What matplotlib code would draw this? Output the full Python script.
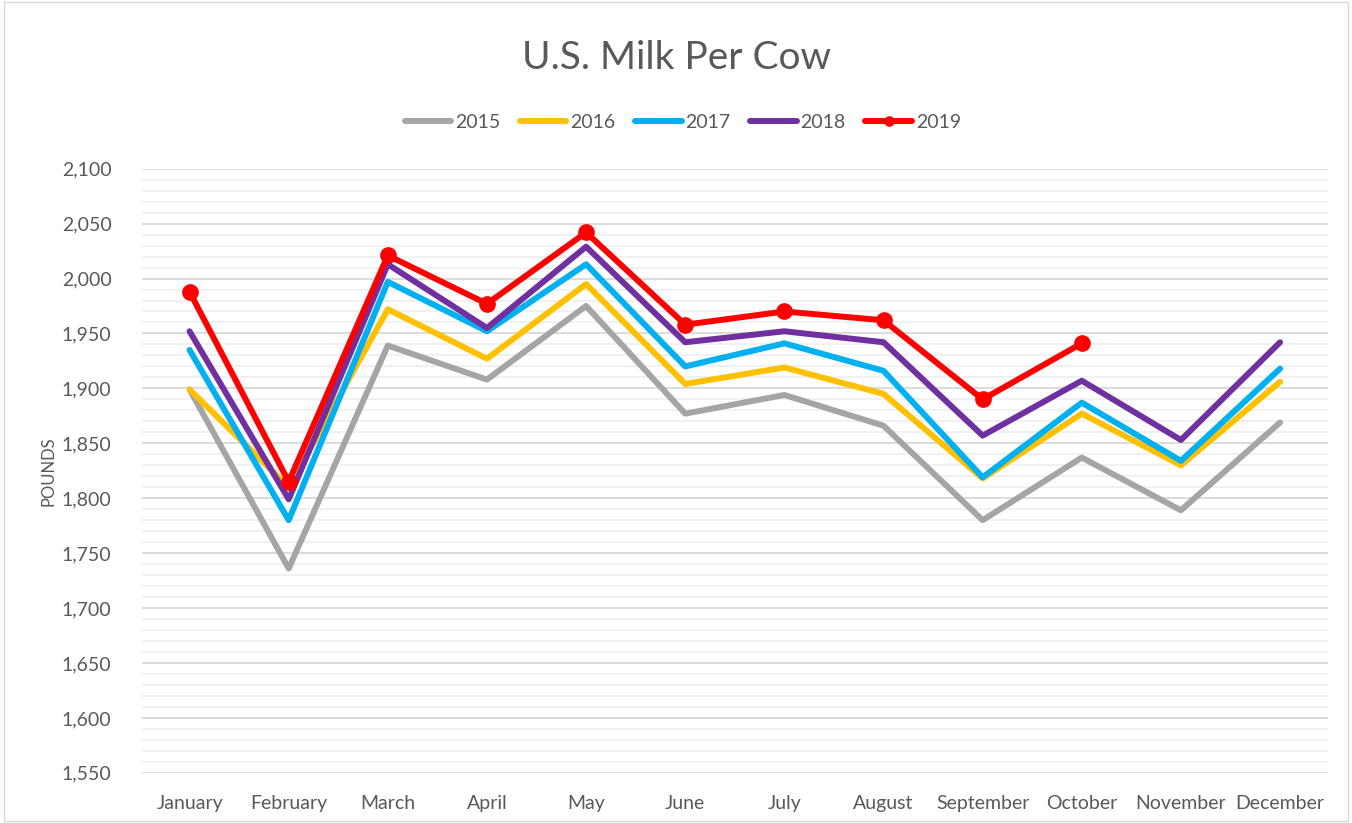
import matplotlib.pyplot as plt
from matplotlib.patches import Rectangle
from matplotlib.ticker import MultipleLocator, FuncFormatter

plt.rcParams['font.family'] = ['Lato', 'DejaVu Sans']

months = ['January', 'February', 'March', 'April', 'May', 'June', 'July',
          'August', 'September', 'October', 'November', 'December']

y2015 = [1899, 1736, 1939, 1908, 1975, 1877, 1894, 1866, 1780, 1837, 1789, 1869]
y2016 = [1899, 1810, 1972, 1927, 1995, 1904, 1919, 1895, 1818, 1877, 1830, 1906]
y2017 = [1935, 1780, 1997, 1952, 2013, 1920, 1941, 1916, 1819, 1887, 1834, 1918]
y2018 = [1952, 1799, 2013, 1955, 2029, 1942, 1952, 1942, 1857, 1907, 1853, 1942]
y2019 = [1988, 1815, 2021, 1977, 2042, 1958, 1970, 1962, 1890, 1941]

text_color = '#595959'

fig = plt.figure(figsize=(13.52, 8.23), dpi=100)
ax = fig.add_axes([0.105, 0.061, 0.877, 0.734])

x = list(range(len(months)))
ax.plot(x, y2015, color='#A5A5A5', lw=4.3, label='2015', solid_capstyle='round')
ax.plot(x, y2016, color='#FFC000', lw=4.3, label='2016', solid_capstyle='round')
ax.plot(x, y2017, color='#00B0F0', lw=4.3, label='2017', solid_capstyle='round')
ax.plot(x, y2018, color='#7030A0', lw=4.3, label='2018', solid_capstyle='round')
ax.plot(x[:len(y2019)], y2019, color='#FF0000', lw=4.3, marker='o', markersize=11,
        label='2019', solid_capstyle='round')

ax.set_xlim(-0.48, 11.48)
ax.set_ylim(1550, 2100)
ax.yaxis.set_major_locator(MultipleLocator(50))
ax.yaxis.set_minor_locator(MultipleLocator(10))
ax.yaxis.set_major_formatter(FuncFormatter(lambda v, p: f'{int(v):,}'))
ax.grid(which='major', axis='y', color='#D9D9D9', lw=1.3)
ax.grid(which='minor', axis='y', color='#F0F0F0', lw=1.3)
ax.set_axisbelow(True)
ax.set_xticks(x)
ax.set_xticklabels(months)
ax.tick_params(axis='both', which='both', length=0, colors=text_color, labelsize=14)
ax.tick_params(axis='x', pad=16)
ax.tick_params(axis='y', pad=22)
for s in ax.spines.values():
    s.set_visible(False)
ax.set_ylabel('POUNDS', color=text_color, fontsize=12, labelpad=4)

fig.suptitle('U.S. Milk Per Cow', y=0.952, fontsize=28, color=text_color)
leg = fig.legend(loc='center', bbox_to_anchor=(0.505, 0.851), ncol=5, frameon=False,
                 fontsize=14, handlelength=2.4, columnspacing=1.0, handletextpad=0.2,
                 markerscale=0.6, labelcolor=text_color)

fig.patches.append(Rectangle((0.003, 0.003), 0.994, 0.994, transform=fig.transFigure,
                             fill=False, edgecolor='#D9D9D9', lw=1))

fig.savefig('out.png', dpi=100)
